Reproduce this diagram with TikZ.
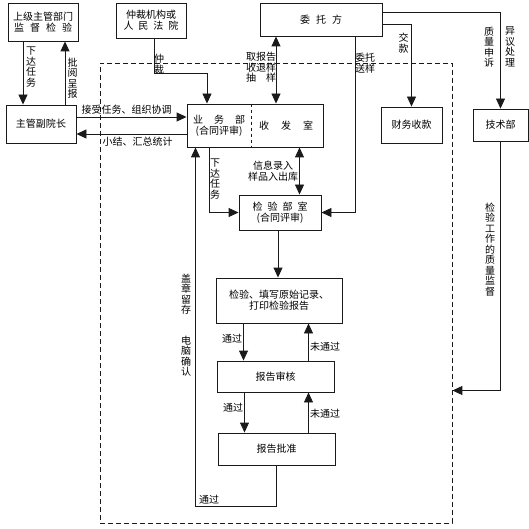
\documentclass[tikz,border=0pt]{standalone}
\usepackage{fontspec}
\setmainfont{Noto Sans CJK SC}
\usetikzlibrary{arrows.meta, positioning, calc}
\definecolor{lineDark}{HTML}{1A1A1A}

\begin{document}
\begin{tikzpicture}[x=1pt, y=-1pt, font=\fontsize{10}{11}\selectfont,
    >={Triangle[length=10pt, width=9pt]},
    box/.style={draw=lineDark, line width=0.9pt, align=center, inner sep=0pt},
    lbl/.style={align=center, inner sep=0pt, font=\fontsize{10}{10.5}\selectfont},
    conn/.style={draw=lineDark, line width=0.9pt}]
  \useasboundingbox (0,0) rectangle (529,529);

  % dashed frame of the institute
  \node[draw=lineDark, line width=0.8pt, dash pattern=on 5pt off 3pt,
        minimum width=352, minimum height=460] (lab) at (276,293) {};

  % boxes
  \node[box, minimum width=70, minimum height=38] (sup) at (43,22)
    {上级主管部门\\监\hspace{6pt}督\hspace{6pt}检\hspace{6pt}验};
  \node[box, minimum width=70, minimum height=35] (arb) at (151,20.5)
    {仲裁机构或\\人\hspace{5pt}民\hspace{5pt}法\hspace{5pt}院};
  \node[box, minimum width=122, minimum height=33] (cli) at (321,19.5)
    {委\hspace{6pt}托\hspace{6pt}方};
  \node[box, minimum width=70, minimum height=38] (vp) at (41,124) {主管副院长};
  \node[box, minimum width=136, minimum height=43] (yw) at (255,125.5) {};
  \node[lbl] (ywt) at (219,126) {业\hspace{11pt}务\hspace{11pt}部\\(合同评审)};
  \node[lbl] (sfs) at (286,126) {收\hspace{12pt}发\hspace{12pt}室};
  \draw[conn, dashed] ([xshift=-4]yw.north) -- ([xshift=-4]yw.south);
  \node[box, minimum width=61, minimum height=36] (cw) at (411.5,125) {财务收款};
  \node[box, minimum width=55, minimum height=32] (js) at (500.5,125) {技术部};
  \node[box, minimum width=82, minimum height=35] (jy) at (280,212.5)
    {检\hspace{5pt}验\hspace{5pt}部\hspace{5pt}室\\(合同评审)};
  \node[box, minimum width=126, minimum height=45] (jl) at (279,300.5)
    {检验、填写原始记录、\\打印检验报告};
  \node[box, minimum width=117, minimum height=31] (sh) at (275.5,376.5) {报告审核};
  \node[box, minimum width=117, minimum height=32] (pz) at (276.5,449) {报告批准};
  \coordinate (ret) at (195.5,506);

  % connectors
  \draw[conn, ->] ([xshift=-20]sup.south) -- ([xshift=-18]vp.north);
  \draw[conn, ->] ([xshift=24]vp.north) -- ([xshift=22]sup.south);
  \draw[conn, ->] ([yshift=7]vp.east) -- ([yshift=8.5]yw.west);
  \draw[conn, ->] ([yshift=-8.5]yw.west) -- ([yshift=-10]vp.east);
  \draw[conn, ->] ([xshift=3]arb.south) |- ([xshift=-48, yshift=30]yw.north)
    -- ([xshift=-48]yw.north);
  \draw[conn, <->] ([xshift=-45]cli.south) -- ([xshift=21]yw.north);
  \draw[conn, ->] ([xshift=34]cli.south) |- (jy.east);
  \draw[conn, ->] ([yshift=-4.5]cli.east) -| (cw.north);
  \draw[conn, ->] ([yshift=7.5]cli.east) -| (js.north);
  \draw[conn, ->] (js.south) |- ([yshift=-97.5]lab.east);
  \draw[conn, <->] ([xshift=44.5]yw.south) -- ([xshift=19.5]jy.north);
  \draw[conn, ->] ([xshift=-45.5]yw.south) |- (jy.west);
  \draw[conn, ->] ([xshift=-2]jy.south) -- ([xshift=-1]jl.north);
  \draw[conn, ->] ([xshift=-35.5]jl.south) -- ([xshift=-32]sh.north);
  \draw[conn, ->] ([xshift=33]sh.north) -- ([xshift=29.5]jl.south);
  \draw[conn, ->] ([xshift=-31]sh.south) -- ([xshift=-32]pz.north);
  \draw[conn, ->] ([xshift=32]pz.north) -- ([xshift=33]sh.south);
  \draw[conn, ->] (pz.south) |- (ret) -- (ret |- yw.south);

  % labels
  \node[lbl] (l1) at (31,67) {下\\达\\任\\务};
  \node[lbl] (l2) at (72.5,78) {批\\阅\\呈\\报};
  \node[lbl] (l3) at (126.5,110) {接受任务、组织协调};
  \node[lbl] (l4) at (137.5,141.5) {小结、汇总统计};
  \node[lbl] (l5) at (159,64) {仲\\裁};
  \node[lbl, align=left] (l6) at (261,67.5) {取报告\\收退样\\抽\hspace{10pt}样};
  \node[lbl] (l7) at (365,63) {委托\\送样};
  \node[lbl] (l8) at (403.5,43) {交\\款};
  \node[lbl] (l9) at (489,47) {质\\量\\申\\诉};
  \node[lbl] (l10) at (510,47) {异\\议\\处\\理};
  \node[lbl] (l11) at (490,249.5) {检\\验\\工\\作\\的\\质\\量\\监\\督};
  \node[lbl] (l12) at (273,171) {信息录入\\样品入出库};
  \node[lbl] (l13) at (215,179) {下\\达\\任\\务};
  \node[lbl] (l14) at (232,339) {通过};
  \node[lbl] (l15) at (325,347) {未通过};
  \node[lbl] (l16) at (233,408) {通过};
  \node[lbl] (l17) at (325,414) {未通过};
  \node[lbl] (l18) at (209,500) {通过};
  \node[lbl] (l19) at (186,294) {盖\\章\\留\\存};
  \node[lbl] (l20) at (186,356) {电\\脑\\确\\认};
\end{tikzpicture}
\end{document}
